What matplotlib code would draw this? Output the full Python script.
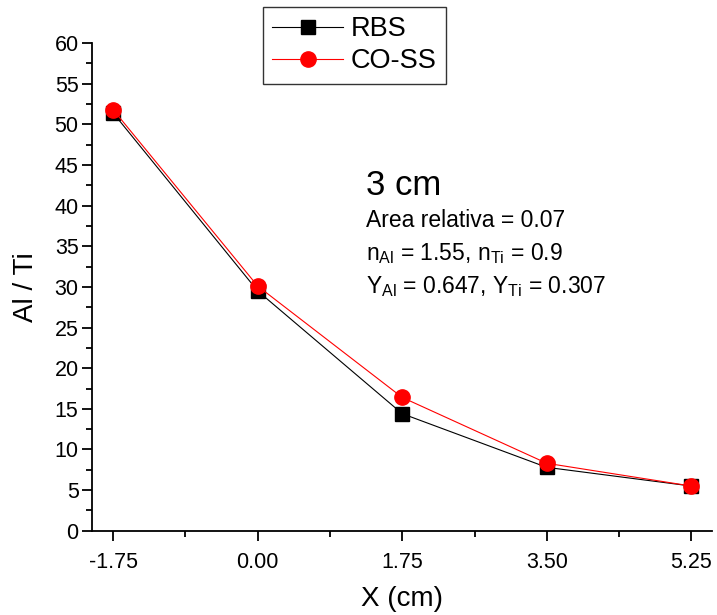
import matplotlib
matplotlib.use("Agg")
import matplotlib.pyplot as plt
from matplotlib.ticker import MultipleLocator, FixedLocator

plt.rcParams['font.family'] = ['Liberation Sans', 'DejaVu Sans']
plt.rcParams['mathtext.fontset'] = 'custom'
plt.rcParams['mathtext.rm'] = 'Liberation Sans'
plt.rcParams['mathtext.it'] = 'Liberation Sans'

x = [-1.75, 0.00, 1.75, 3.50, 5.25]
rbs = [51.4, 29.5, 14.4, 7.8, 5.5]
coss = [51.8, 30.1, 16.4, 8.3, 5.5]
xticks = [-1.75, 0.00, 1.75, 3.50, 5.25]
xticklabels = ['-1.75', '0.00', '1.75', '3.50', '5.25']

fig = plt.figure(figsize=(7.17, 6.15), dpi=100)
ax = fig.add_axes([0.129, 0.137, 0.864, 0.793])

l1, = ax.plot(x, rbs, color='black', lw=0.8, marker='s', markersize=10,
              markerfacecolor='black', markeredgecolor='black', label='RBS')
l2, = ax.plot(x, coss, color='red', lw=0.8, marker='o', markersize=11,
              markerfacecolor='red', markeredgecolor='red', label='CO-SS')

ax.set_xlim(-2.0, 5.5)
ax.set_ylim(0, 60)
ax.xaxis.set_major_locator(FixedLocator(xticks))
ax.set_xticklabels(xticklabels)
ax.xaxis.set_minor_locator(FixedLocator([-0.875, 0.875, 2.625, 4.375]))
ax.yaxis.set_major_locator(MultipleLocator(5))
ax.yaxis.set_minor_locator(MultipleLocator(2.5))

for s in ['top', 'right']:
    ax.spines[s].set_visible(False)
for s in ['left', 'bottom']:
    ax.spines[s].set_linewidth(1.3)

ax.tick_params(which='major', direction='out', length=7, width=1.3, labelsize=15.5, pad=3)
ax.tick_params(which='minor', direction='out', length=4, width=1.3)
ax.tick_params(axis='x', which='major', pad=8)

ax.set_xlabel('X (cm)', fontsize=20, labelpad=10)
ax.set_ylabel('Al / Ti', fontsize=20, labelpad=11)

leg = fig.legend(handles=[l1, l2], loc='upper left', bbox_to_anchor=(263/717, 1 - 7/615),
                 fontsize=19.5, frameon=True, fancybox=False, edgecolor='black',
                 handlelength=2.6, borderpad=0.35, labelspacing=0.22, handletextpad=0.3,
                 borderaxespad=0)
leg.get_frame().set_linewidth(1.0)

fig.text(366/717, 1 - 195/615, '3 cm', fontsize=25, va='baseline')
fig.text(366/717, 1 - 227/615, 'Area relativa = 0.07', fontsize=16.5, va='baseline')
fig.text(366/717, 1 - 260/615, r'n$_{\mathregular{Al}}$ = 1.55, n$_{\mathregular{Ti}}$ = 0.9', fontsize=16.5, va='baseline')
fig.text(366/717, 1 - 293/615, r'Y$_{\mathregular{Al}}$ = 0.647, Y$_{\mathregular{Ti}}$ = 0.307', fontsize=16.5, va='baseline')

fig.savefig('out.png', dpi=100)
